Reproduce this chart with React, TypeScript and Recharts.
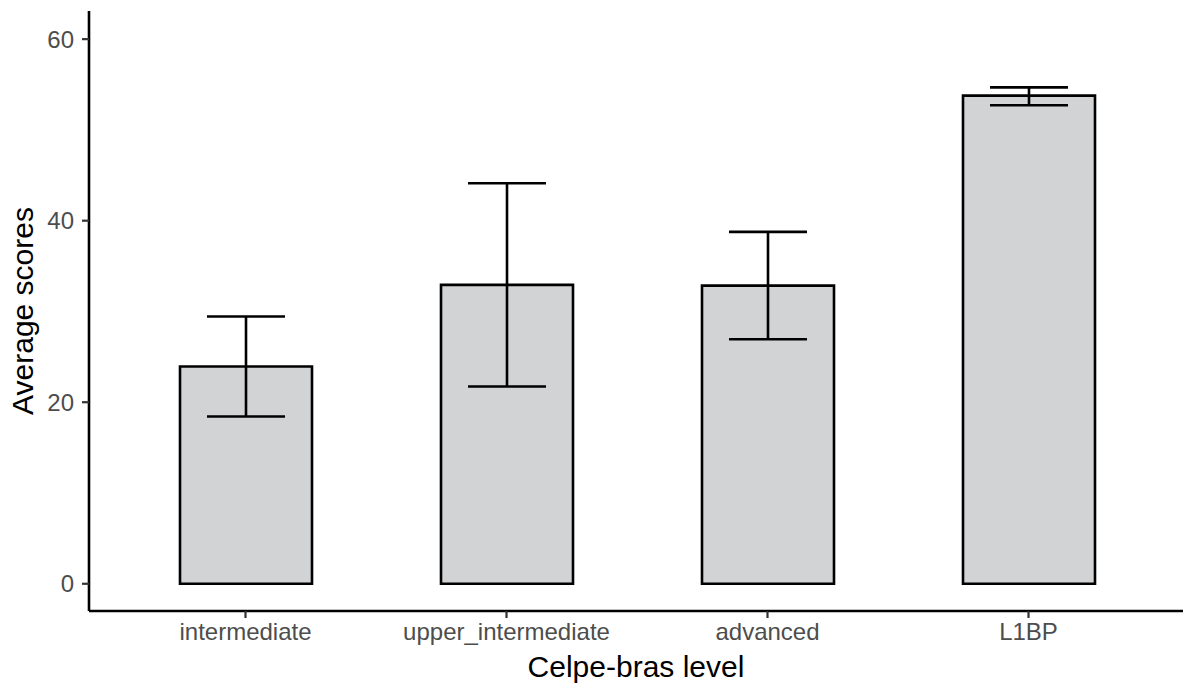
import React from 'react';
import { ComposedChart, Bar, XAxis, YAxis, ErrorBar } from 'recharts';

const categories = ['intermediate', 'upper_intermediate', 'advanced', 'L1BP'];
const means = [23.93, 32.93, 32.85, 53.78];
const lowerBounds = [18.43, 21.73, 26.94, 52.71];
const upperBounds = [29.44, 44.12, 38.77, 54.69];
const yTicks = [0, 20, 40, 60];

const data = categories.map((c, i) => ({
  level: c,
  score: means[i],
  err: [means[i] - lowerBounds[i], upperBounds[i] - means[i]],
}));

const FONT = '"Liberation Sans", Arial, Helvetica, sans-serif';

export default function App() {
  return (
    <div style={{ position: 'absolute', left: 0, top: 0, width: 1183, height: 686, background: '#fff', fontFamily: FONT }}>
      <ComposedChart
        width={1183}
        height={686}
        data={data}
        margin={{ top: 11, right: 0, bottom: 0, left: 0 }}
      >
        <XAxis
          dataKey="level"
          type="category"
          height={75}
          padding={{ left: 26, right: 24 }}
          axisLine={{ stroke: '#000', strokeWidth: 2.6 }}
          tickLine={{ stroke: '#333', strokeWidth: 2.2 }}
          tickSize={7}
          tickMargin={5}
          tick={{ fontSize: 24, fill: '#4d4d4d', fontFamily: FONT }}
          interval={0}
          label={{
            value: 'Celpe-bras level',
            position: 'insideBottom',
            offset: 9,
            style: { fontSize: 30, fill: '#000', fontFamily: FONT },
          }}
        />
        <YAxis
          type="number"
          width={89}
          domain={[-3.0, 63.1]}
          ticks={yTicks}
          allowDataOverflow
          axisLine={{ stroke: '#000', strokeWidth: 2.6 }}
          tickLine={{ stroke: '#333', strokeWidth: 2.2 }}
          tickSize={7}
          tickMargin={8}
          tick={{ fontSize: 24, fill: '#4d4d4d', fontFamily: FONT }}
          label={{
            value: 'Average scores',
            angle: -90,
            position: 'center',
            dx: -22,
            style: { fontSize: 30, fill: '#000', fontFamily: FONT, textAnchor: 'middle' },
          }}
        />
        <Bar
          dataKey="score"
          barSize={132}
          fill="#d1d3d4"
          stroke="#000"
          strokeWidth={2.6}
          isAnimationActive={false}
        >
          <ErrorBar dataKey="err" width={39} stroke="#000" strokeWidth={2.6} direction="y" isAnimationActive={false} />
        </Bar>
      </ComposedChart>
    </div>
  );
}
